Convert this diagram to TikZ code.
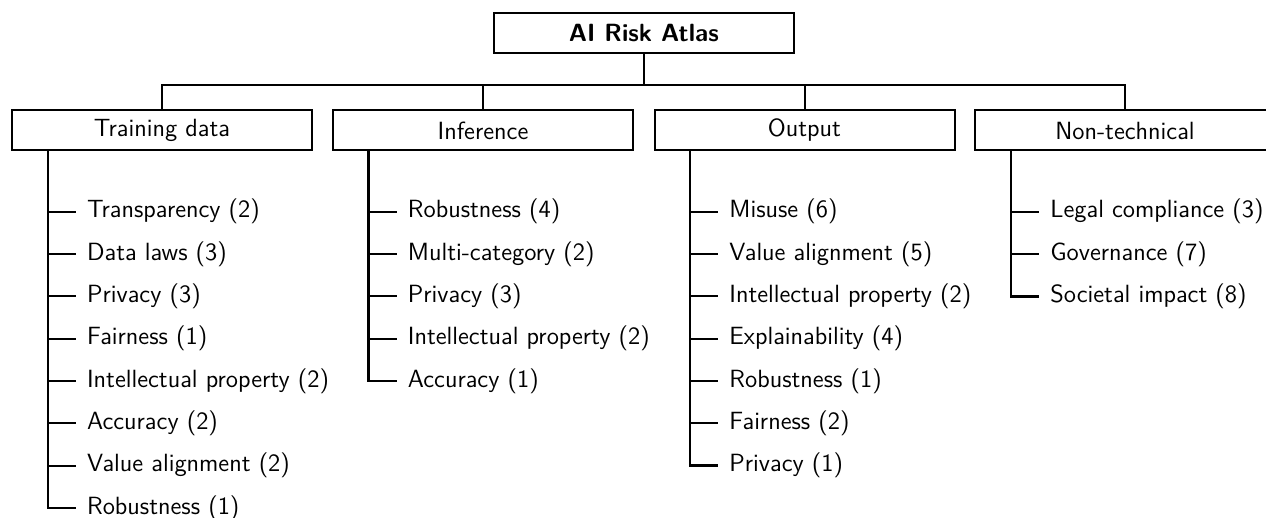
\documentclass[tikz,border=0pt]{standalone}
\usepackage{fontspec}
\usetikzlibrary{calc}
\newcommand\atlasfont{\sffamily\fontsize{12.45}{14}\selectfont}
\tikzset{
  box/.style={draw, line width=1pt, minimum width=150pt, minimum height=20pt,
    inner sep=0pt, font=\atlasfont},
  rootbox/.style={box, font=\atlasfont\bfseries},
  leaf/.style={anchor=west, inner sep=0pt, font=\atlasfont},
  link/.style={line width=1pt},
  trunkline/.style={line width=1.2pt, line join=miter},
}
% #1 column id, #2 trunk x (px), #3 number of items, #4 items
\newcommand\riskcol[4]{%
  \coordinate (t#1) at (c#1.south west -| #2,0);
  \foreach \t [count=\k] in {#4} {
    \node[leaf] (i#1-\k) at ({#2+39},{211.7+42.33*(\k-1)}) {\t};
    \draw[link] (i#1-\k.west -| t#1) -- ([xshift=-5.5pt]i#1-\k.west);
  }
  \draw[trunkline] (t#1) |- ([xshift=-5.5pt]i#1-#3.west);
}
\begin{document}
\begin{tikzpicture}[x=0.5pt,y=-0.5pt]
  \useasboundingbox (0,0) rectangle (1266,518);
  \node[rootbox] (root) at (643.8,33.3) {AI Risk Atlas};
  \node[box] (c1) at (162,130.5) {Training data};
  \node[box] (c2) at (483,130.5) {Inference};
  \node[box] (c3) at (804.5,130.5) {Output};
  \node[box] (c4) at (1125,130.5) {Non-technical};
  \coordinate (bar) at (643.8,85);
  \draw[link] (root.south) -- (bar);
  \draw[link] (c1.north) -- (c1.north |- bar) -- (c4.north |- bar) -- (c4.north);
  \draw[link] (c2.north) -- (c2.north |- bar);
  \draw[link] (c3.north) -- (c3.north |- bar);
  \riskcol{1}{47.7}{8}{Transparency (2), Data laws (3), Privacy (3), Fairness (1), Intellectual property (2), Accuracy (2), Value alignment (2), Robustness (1)}
  \riskcol{2}{368.5}{5}{Robustness (4), Multi-category (2), Privacy (3), Intellectual property (2), Accuracy (1)}
  \riskcol{3}{690}{7}{Misuse (6), Value alignment (5), Intellectual property (2), Explainability (4), Robustness (1), Fairness (2), Privacy (1)}
  \riskcol{4}{1011}{3}{Legal compliance (3), Governance (7), Societal impact (8)}
\end{tikzpicture}
\end{document}
